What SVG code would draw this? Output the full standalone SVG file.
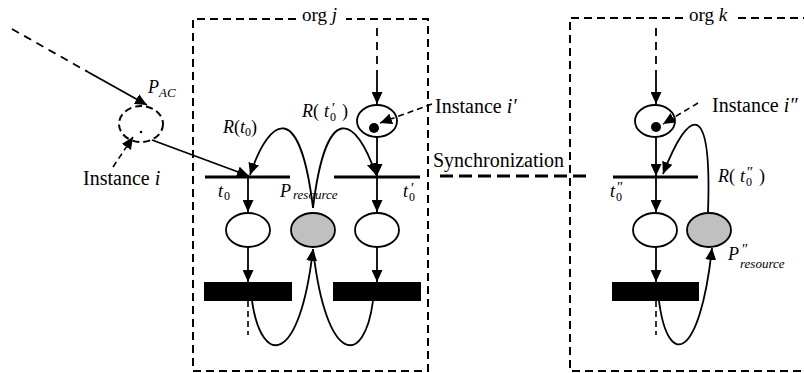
<svg xmlns="http://www.w3.org/2000/svg" width="804" height="373" viewBox="0 0 804 373">
  <defs>
    <marker id="arrow" markerUnits="userSpaceOnUse" markerWidth="13" markerHeight="11" refX="12" refY="5.5" orient="auto">
      <path d="M0,0 L12,5.5 L0,11 z" fill="#000"/>
    </marker>
    <style>
      .org { fill: none; stroke: #000; stroke-width: 2; stroke-dasharray: 8 5; }
      .arc { fill: none; stroke: #000; stroke-width: 1.8; }
      .arr { marker-end: url(#arrow); }
      .dash { fill: none; stroke: #000; stroke-width: 1.8; stroke-dasharray: 8 6; }
      .dashs { fill: none; stroke: #000; stroke-width: 1.6; stroke-dasharray: 6 4; }
      .sync { fill: none; stroke: #000; stroke-width: 3; stroke-dasharray: 13 6; }
      .place { fill: #fff; stroke: #000; stroke-width: 1.8; }
      .res { fill: #c0c0c0; stroke: #000; stroke-width: 1.8; }
      .tline { stroke: #000; stroke-width: 3; }
      .bar { fill: #000; }
      .token { fill: #000; }
    </style>
  </defs>

  <rect width="804" height="373" fill="#fff"/>

  <!-- organisation boundaries -->
  <g id="org-j">
    <path class="org" d="M296,19 H193 V371 H428 V19 H346"/>
    <text font-family="Liberation Serif" font-size="19" x="302" y="21">org <tspan font-style="italic">j</tspan></text>
  </g>
  <g id="org-k">
    <path class="org" d="M683,18 H570 V371 H806"/>
    <path class="org" d="M738,18 H806"/>
    <text font-family="Liberation Serif" font-size="19" x="689" y="21">org <tspan font-style="italic">k</tspan></text>
  </g>

  <!-- places -->
  <g id="p-ac">
    <ellipse cx="141" cy="124" rx="22" ry="18" fill="none" stroke="#000" stroke-width="2" stroke-dasharray="7 4"/>
    <circle cx="141" cy="132" r="1.3" class="token"/>
    <text font-family="Liberation Serif" font-size="18" font-style="italic" x="148" y="93">P</text>
    <text font-family="Liberation Serif" font-size="13" font-style="italic" x="159" y="97">AC</text>
    <text font-family="Liberation Serif" font-size="20" x="83" y="185">Instance <tspan font-style="italic">i</tspan></text>
  </g>

  <g id="p-inst-j">
    <ellipse class="place" cx="377" cy="121" rx="20" ry="16"/>
    <circle class="token" cx="374" cy="128" r="5"/>
    <text font-family="Liberation Serif" font-size="20" x="435" y="113">Instance <tspan font-style="italic">i&#8242;</tspan></text>
  </g>

  <g id="p-inst-k">
    <ellipse class="place" cx="655" cy="121" rx="20" ry="16"/>
    <circle class="token" cx="656" cy="127" r="5"/>
    <text font-family="Liberation Serif" font-size="20" x="712" y="112">Instance <tspan font-style="italic">i&#8243;</tspan></text>
  </g>

  <g id="p-j1"><ellipse class="place" cx="248" cy="230" rx="22" ry="17"/></g>
  <g id="p-res-j">
    <ellipse class="res" cx="313" cy="230" rx="22" ry="17"/>
    <text font-family="Liberation Serif" font-size="18" font-style="italic" x="280" y="197">P</text>
    <text font-family="Liberation Serif" font-size="13" font-style="italic" x="293" y="199">resource</text>
  </g>
  <g id="p-j2"><ellipse class="place" cx="377" cy="230" rx="22" ry="17"/></g>
  <g id="p-k1"><ellipse class="place" cx="655" cy="230" rx="22" ry="17"/></g>
  <g id="p-res-k">
    <ellipse class="res" cx="709" cy="230" rx="22" ry="17"/>
    <text font-family="Liberation Serif" font-size="18" font-style="italic" x="728" y="260">P</text>
    <text font-family="Liberation Serif" font-size="15" font-style="italic" x="741" y="254">&#8243;</text>
    <text font-family="Liberation Serif" font-size="13" font-style="italic" x="740" y="268">resource</text>
  </g>

  <!-- transitions -->
  <g id="t0">
    <line class="tline" x1="205" y1="177" x2="290" y2="177"/>
    <text font-family="Liberation Serif" font-size="18" font-style="italic" x="218" y="197">t</text>
    <text font-family="Liberation Serif" font-size="12" x="224" y="200">0</text>
  </g>
  <g id="t0p">
    <line class="tline" x1="334" y1="177" x2="420" y2="177"/>
    <text font-family="Liberation Serif" font-size="18" font-style="italic" x="403" y="197">t</text>
    <text font-family="Liberation Serif" font-size="15" font-style="italic" x="410" y="193">&#8242;</text>
    <text font-family="Liberation Serif" font-size="12" x="409" y="201">0</text>
  </g>
  <g id="t0pp">
    <line class="tline" x1="613" y1="177" x2="698" y2="177"/>
    <text font-family="Liberation Serif" font-size="18" font-style="italic" x="610" y="197">t</text>
    <text font-family="Liberation Serif" font-size="15" font-style="italic" x="616" y="192">&#8243;</text>
    <text font-family="Liberation Serif" font-size="12" x="616" y="201">0</text>
  </g>
  <g id="bar-j1"><rect class="bar" x="204" y="282" width="88" height="19"/></g>
  <g id="bar-j2"><rect class="bar" x="333" y="282" width="88" height="19"/></g>
  <g id="bar-k1"><rect class="bar" x="612" y="282" width="87" height="19"/></g>

  <!-- arc labels -->
  <g id="labels">
    <text font-family="Liberation Serif" font-size="18" x="223" y="133"><tspan font-style="italic">R</tspan>(<tspan font-style="italic">t</tspan><tspan font-size="12" dy="3">0</tspan><tspan dy="-3">)</tspan></text>
    <text font-family="Liberation Serif" font-size="18" x="302" y="117"><tspan font-style="italic">R</tspan>(</text>
    <text font-family="Liberation Serif" font-size="18" font-style="italic" x="324" y="117">t</text>
    <text font-family="Liberation Serif" font-size="15" font-style="italic" x="331" y="113">&#8242;</text>
    <text font-family="Liberation Serif" font-size="12" x="330" y="121">0</text>
    <text font-family="Liberation Serif" font-size="18" x="342" y="117">)</text>
    <text font-family="Liberation Serif" font-size="18" x="718" y="182"><tspan font-style="italic">R</tspan>(</text>
    <text font-family="Liberation Serif" font-size="18" font-style="italic" x="740" y="182">t</text>
    <text font-family="Liberation Serif" font-size="15" font-style="italic" x="746" y="177">&#8243;</text>
    <text font-family="Liberation Serif" font-size="12" x="746" y="186">0</text>
    <text font-family="Liberation Serif" font-size="18" x="759" y="182">)</text>
    <text font-family="Liberation Serif" font-size="20" x="433" y="167">Synchronization</text>
  </g>

  <!-- connectors -->
  <g id="connectors">
    <path class="dash" d="M12,29 L88,72"/>
    <path class="arc arr" d="M88,72 L147,105"/>
    <path class="dashs arr" d="M113,167 L133,137"/>
    <path class="arc arr" d="M152,140 L249,176"/>

    <path class="dash" d="M377,28 V78"/>
    <path class="arc arr" d="M377,78 V104"/>
    <path class="arc arr" d="M377,137 V176"/>
    <path class="dashs arr" d="M432,104 L380,123"/>
    <path class="arc arr" d="M313,208 C300,100 270,115 250,175"/>
    <path class="arc arr" d="M313,208 C326,100 356,115 376,175"/>
    <path class="arc arr" d="M248,177 V212"/>
    <path class="arc arr" d="M377,177 V212"/>
    <path class="arc arr" d="M248,247 V282"/>
    <path class="arc arr" d="M377,247 V282"/>
    <path class="dashs" d="M248,301 V335"/>
    <path class="arc arr" d="M252,301 C262,368 300,365 313,249"/>
    <path class="arc" d="M373,301 C364,368 326,365 313,249"/>

    <path class="sync" d="M440,176 H588"/>

    <path class="dash" d="M656,28 V78"/>
    <path class="arc arr" d="M656,78 V104"/>
    <path class="arc arr" d="M656,137 V176"/>
    <path class="dashs arr" d="M698,103 L663,124"/>
    <path class="arc arr" d="M708,212 C712,100 690,105 663,174"/>
    <path class="arc arr" d="M656,177 V212"/>
    <path class="arc arr" d="M656,247 V282"/>
    <path class="dashs" d="M656,301 V335"/>
    <path class="arc arr" d="M659,301 C668,370 700,360 712,248"/>
  </g>
</svg>
